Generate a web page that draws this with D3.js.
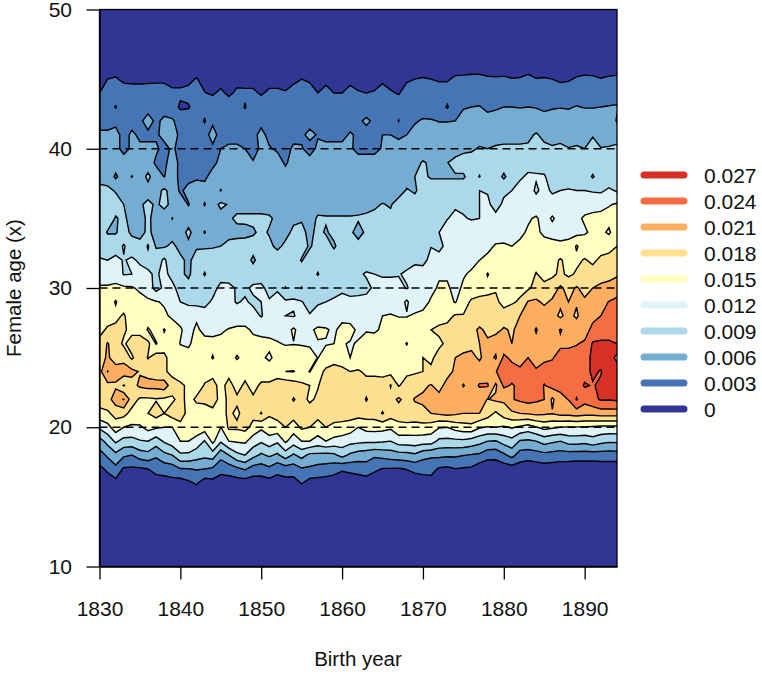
<!DOCTYPE html>
<html>
<head>
<meta charset="utf-8">
<style>
  body { margin: 0; background: #fff; }
  text { font-family: "Liberation Sans", Arial, sans-serif; fill: #111; }
  .axis path, .axis line { stroke: #000; stroke-width: 1.3; }
  .axis text { font-size: 21px; }
</style>
</head>
<body>
<div id="elm"></div>
<script src="https://d3js.org/d3.v7.min.js"></script>
<script>
'use strict';

var firstYear = 1830, lastYear = 1894;
var yearTicks = [1830, 1840, 1850, 1860, 1870, 1880, 1890];
var ageTicks = [10, 20, 30, 40, 50];
var dashedAges = [20, 30, 40];
var levels = [3, 6, 9, 12, 15, 18, 21, 24, 27, 30];
var legendLabels = ['0.027', '0.024', '0.021', '0.018', '0.015', '0.012', '0.009', '0.006', '0.003', '0'];
var legendColours = ['#d73027', '#f46d43', '#fdae61', '#fee090', '#ffffbf', '#e0f3f8', '#abd9e9', '#74add1', '#4575b4', '#313695'];
var bandColours = ['#4575b4', '#74add1', '#abd9e9', '#e0f3f8', '#ffffbf', '#fee090', '#fdae61', '#f46d43', '#d73027', '#ffffff'];

// fertility per 1000, one list per female age, one value per birth year 1830..1894
var age15 = [.5,.5,.5,.5,.5,.5,.5,.5,.5,.5, .5,.5,.5,.5,.5,.5,.5,.5,.5,.5, .5,.5,.5,.5,.5,.5,.5,.5,.5,.5, .5,.5,.5,.5,.5,.5,.5,.5,.5,.5, .5,.5,.5,.5,.5,.5,.5,.5,.5,.5, .5,.5,.5,.5,.5,.5,.5,.5,.5,.5, .5,.5,.5,.5,.5];
var age16 = [1,1.5,2,1,1,1,1,1.5,1.7,2, 1.6,2.4,3.4,1.5,2,1.5,1.5,1.5,1.5,1.5, 1.5,1.8,1.7,1.8,1.8,3.2,1.8,1.8,1.5,1.5, 1,1,1.3,1.5,1,1,1,1,1,1.3, 1.5,1.7,1,1,1,.8,.5,.5,.5,.5, .5,.5,.5,.5,.5,.5,.5,.5,.5,.5, .5,.5,.5,.5,.5];
var age17 = [2.3,3.5,5.1,2.6,2.5,2.5,3,4,4.2,4.5, 5.8,5.9,6.2,6,5.5,4,4.4,5.3,6.3,4.6, 4.5,5.3,3.9,4.6,4.5,5.7,5.5,4.9,4.8,4.1, 3.4,3.8,4.1,4.6,3.6,2.8,2.8,2.7,3.1,3.7, 4,4.1,2.6,2.3,2.9,2.7,2.5,1,1,1, 1.2,1.5,1.5,1,1.2,1.5,1.3,1.2,1.1,1, 1,1,1.1,1.1,1.1];
var age18 = [4.8,6.5,8.2,6.5,6,7.5,8,6.5,8.2,9, 11.5,11.4,10.4,9.8,10.5,7,9,11.3,12,10, 8.5,9.5,8.5,10.5,8.6,10,8.3,8.3,8,8.4, 10,8.4,7.6,7.3,6.5,7,7.4,7.8,8,8.5, 7,6.5,6.7,6.5,6.5,6.1,5.8,5.5,4.1,4, 5.4,7,4.6,4.3,4.7,5.1,4.9,4.6,4.6,4.5, 4.5,4.5,4.6,4.6,4.6];
var age19 = [7.8,10,12.5,11,11,11.8,12,10.5,12.4,13.7, 15,15,13.8,11.8,15.8,12.4,15,15.3,15.5,13.5, 12.4,13.6,12.5,15.5,13.3,15,15,13.8,15,14, 13.7,13,12.7,12.5,12.6,12.3,12,13.5,13.5,13.7, 13.4,13.4,11.3,11.2,11.3,11.4,10.8,10,9,8.8, 10.2,11,8.7,8.5,9,10.2,9.5,9,10.2,10.3, 9.9,10.8,9.9,9.4,9.5];
var age20 = [12.6,14,16.5,15,14.5,14.5,16,15.4,15,15, 17,17,17,16.5,18,15,18.5,18.5,19,17, 15.6,17,17,18,16.5,18.5,18,16.8,18,17.5, 17,16.5,15,16,16.1,16,15.5,17,17,16.8, 17,16.5,15.2,15,16.1,16.7,17,15.3,14.8,15, 14.6,15.3,14.5,13.6,14.8,15.9,15.4,15,14.8,14.8, 14.8,14.6,14.3,14.3,14.3];
var age21 = [17,17.5,19,19,17,17.5,18,19.3,18,19.5, 19.5,17,16.5,16,17,17,18.5,17.5,19,19, 21.2,18.3,19,19.5,19.5,19.5,19.5,19,19,19, 19.5,19.5,19.5,19.5,19.5,21.2,19.5,19.5,20,20, 20.3,21,21.5,22,21.5,21,21,21,19.5,17.5, 19.5,20.5,21,21.3,21.8,21.5,21.2,22,22,22.5, 22,22,22.5,22.5,22.5];
var age22 = [19.5,19.8,22.5,24.1,19.5,17.5,17.5,17.8,17.5,17.5, 19,17,18.5,19,19.5,17,18.5,18.5,18.3,18.5, 18.2,18,19,19.5,17.8,19,17.5,18.5,19,18, 19.5,19.5,19.5,17.8,19.5,19.5,19.8,21.5,19.9,21.2, 21.5,22,22,22,22,22,22,22,20.9,21.5, 21.5,23.8,24.5,25,24.5,24,20.5,23,24.1,27.2, 25,26.2,27.3,27.2,27.5];
var age23 = [20,20.2,20.5,17.8,20,21.5,22,22,22.5,19.5, 18.5,17.5,16.5,18.2,19,17,19,17,18.5,17, 18.5,18.5,19.5,20,19.5,18.5,18,17.8,19.5,19.5, 19.5,20,19.5,19,19,18.3,21.2,17.8,19,19.5, 20.5,21.2,20,22,22,24.2,22.5,24.3,24.3,20.5, 24.5,23.8,24.5,25,25,23.9,25,25,25,25.5, 27.3,26.8,27.5,28,28];
var age24 = [20,24.1,22.5,22.5,21.7,20.8,20,19.5,18.5,17, 16.5,15.5,16,17,17,17.5,17,17,17,15, 16.5,16.5,16.5,15,14.9,16,14.9,17,18.5,18.5, 18.5,18,18.3,17.5,17.5,17.8,17,17,17.5,17.7, 18,18.5,21,20,21.5,22,22,22,22.5,23.9, 25,25,24.5,24.2,24.3,25,25,25,25.5,25.5, 26,27.5,26.8,29,28];
var age25 = [19.5,21.5,19.5,20,17.5,20,17.8,19.5,18.5,17, 16.5,15.5,16.5,16.5,14.8,16.5,16.5,14.7,16,16, 15.5,14.5,16,16.5,16.5,17,16.5,14.9,16.5,17.5, 17,15,16,16.5,16.5,16.5,16.5,17,17,17.5, 18,17.5,19,20,21,21.5,21.5,20.7,22,20.7, 24.5,23.5,23,24,23,23.5,23.8,25,25,25.5, 26,27.5,28.5,28,31];
var age26 = [19,21.2,19.5,17.5,19.5,19.5,18.8,14.8,17,16.5, 14.9,14.8,15.5,16,16,16,15.7,16.5,16.5,16, 16,15.7,15.2,14.8,14.9,14.7,14.5,14.8,14.8,15, 15.2,14.8,15.2,16,16,16.3,16.5,16.5,14.8,17, 17,17.5,17.5,18.5,19.5,20,20.5,21,21.5,22, 22.5,21,22.5,23,23,23,23.5,23.5,23.5,23.8, 24.5,27.3,27.5,27.5,27];
var age27 = [17,18.5,19,18.5,17,17,14.7,16,18.2,16.5, 15.3,14,15.5,14.2,14,14.5,15.2,15.5,15.7,14.5, 14,14,14,13.7,15.5,13.5,14.5,15.5,15.3,14.5, 16,15.8,14.5,14.8,14.7,15.3,16,17,17.3,17.5, 17.5,18,18.5,19,19,19.5,20,21.5,20.3,20.5, 21.2,20.8,21.5,22,24.3,22,22.5,24.2,23,23, 22.5,25,25.5,25.5,26];
var age28 = [16,16.5,17,18.5,15.5,16.5,16.5,16,15.5,14.5, 14,13.5,14.5,13.5,13.5,13.7,13,13.5,13,13, 11.8,13.2,13.2,12,11.8,13,12.3,13,13,14, 14,14,13.5,13.7,14,15,15.3,14.8,14.8,15.5, 16,16.5,17,17,18.3,18.2,18.5,19,19.5,20, 20,20.5,21,22,22,22.5,22,20.5,22,20.5, 23,23,24,25,25.5];
var age29 = [15.5,16,18.3,15.8,16,16,15.5,15.2,14.7,14, 12,11.5,11,11,12.5,13,12.7,11.8,12.3,11.5, 12,12.3,14.7,12.5,12.4,12.2,10.5,11.7,12,12.5, 12.8,13,13,13,13,13,13,13.5,15.5,13, 13.5,15.5,16,16,14.8,16.5,18.5,19,19,19, 16.5,17.5,18.5,21.2,21.5,20.5,21.5,21.5,21,21.3, 21.5,22,23,24.1,24.5];
var age30 = [15.5,15.5,15.5,15.5,15.3,14.5,13.5,11,12.5,13, 10.5,10,9,10.5,10.8,13,12.8,11.7,11.5,12.5, 12.7,11,11,8.9,10.5,8.9,11,11,10.8,10.8, 11.5,10.5,10.8,11.2,12.5,13,13,13,11.8,13, 13.5,14,15.5,15.5,14,15.5,16,16.5,17,17.5, 15.7,16,17,17.5,19,19,19.5,21.5,20,21.3, 20,21,21.5,22,23];
var age31 = [13,13,14,11.8,12,13,12.5,11.5,13,10.8, 9.5,8.5,10.5,8.8,10.5,10.5,10.5,10.5,10.5,10.5, 10.5,10.5,10.5,10.5,10.5,10.5,10.5,8.8,10.5,10.5, 10.5,11,11.5,12.3,12,11.7,11.7,11.8,12.5,13, 13.5,14,14.5,14.5,14.5,14.7,15.5,16,18.2,16.5, 16.5,16.5,17,16,18.2,16.8,17.5,18.5,17.5,18.3, 19,19,20,20,20.5];
var age32 = [12.3,12,12.8,11.8,12.5,11.5,11,10.5,12.5,10, 9.5,8.5,10,10.3,10.3,10.3,10.3,10.3,10.3,8.5, 10.3,10.3,10.3,10.3,10.3,8.8,10.3,10.3,10.3,10.3, 10.3,10.3,10.3,10.5,10.5,10.5,10.5,9,10.8,11.5, 11,13,13.5,14,14,13.8,14,15,15.5,16, 15.5,15.5,16,16.5,16.5,16.5,17,18.3,17,17.5, 18.2,17.5,18.5,18.5,19];
var age33 = [10.5,10.5,10.5,12.3,10.3,10,12.3,8.7,8.7,9.5, 8.3,8.5,8.7,8.7,8.8,9,9.7,10,10,10, 10,9.5,8.5,9.5,10,10,8.7,10,10,8.7, 10,10,10,10.2,10.5,10.5,10.5,10.5,11,11.5, 12,11.9,11,13,13.5,13.5,14,14,14.5,15.2, 15.3,15,15.5,16,16,16,16,15.6,16,18.3, 16.5,16.5,17,17.5,18];
var age34 = [10.5,8.8,8.8,10,8.5,8,9.6,8,8.3,8, 8,9.5,8,5.8,8,8,8.2,8.2,8.3,8.7, 9.5,8.8,8,8.3,9.5,9.5,8.5,9.5,8.8,9.5, 9.5,9.5,8,9.5,9.7,10,10,10,10,10, 10.3,11.5,12,13,13,13,13.5,13.5,13.8,14, 14,14.3,14.5,15.3,15.5,14.5,14,14,14,14, 14.7,15.5,15.8,14.5,17];
var age35 = [10.5,10.5,8.8,9.5,8,8,9.5,8,8,5.9, 8,8,8,8,8,8,8.6,9.5,9.5,9.5, 9.5,9.3,8.5,8.5,8.5,8.8,8,9.3,9.2,9.2, 9.2,9.2,9.3,9.3,9.5,9.8,9.5,9,10,10, 10.3,10.5,11.3,11.9,12.5,12.2,11.8,12,12.5,12.8, 13,13,13.5,14.7,15.3,14,15.3,14,14.7,14.5, 15.3,15.5,15.5,16,16.5];
var age36 = [10,10,10,9,8.5,8.7,9.5,8.7,9.5,8.5, 8,5.8,8,5.8,8,9.5,8.8,8,8,8, 8,8,8,8,8,8,8,8,8,8, 8,8,8,8.5,8.7,9.1,8.8,10,9.5,10, 10.5,10.7,11,11.5,11.7,11.5,11.5,12,12.5,11, 12.5,13,13,13.3,13.5,14,13.5,13.8,14,14, 14,14.3,14.5,14.8,15.3];
var age37 = [9.5,9.5,8.8,8.3,8,8,8,8,9.5,8, 5.5,7,7.5,7.5,7.5,5.9,8,8,8,8, 7.5,7.5,7.5,7.5,7.5,7.5,7.5,7.5,7.5,7.5, 7.5,7.5,7.8,8,8,8,8,8,9.2,8.7, 10,10.5,10.5,10.5,10.5,10.5,11.5,12,11.8,12, 11.5,12,12.8,13.5,11.5,13,11.5,12,12.2,12, 12,11.7,11.5,12.5,11.7];
var age38 = [8.4,8,5.5,7.5,5.9,7.5,9.6,7.5,5.9,7.5, 5.2,5,5.5,5.2,7.5,7.5,7.5,7.5,7.5,7.5, 7.5,7.5,7.5,7.5,7.5,7.5,7.5,7.5,7.5,7.5, 8,8,8,8,8,8,8,8,8,9, 9.5,8.7,8.7,8.7,8.7,8.7,10,8.9,10.5,10.5, 8.5,10.5,11.7,12.3,12.3,12.2,11,10.5,10.5,10.5, 10.5,8.7,10.5,10,10.5];
var age39 = [7,7.5,7.5,7.5,7.5,7.5,7.5,5.5,5.5,7, 5.5,5,5.5,5,5,7,7,7.5,7.5,6.2, 7.5,7.5,7.5,5.5,7.5,7.5,7,7.5,7.5,7.5, 7.5,7.5,7.5,7.5,7.5,7.5,7.5,7.5,7.5,8, 9.3,8.5,8,8.9,10,10,10,10,10,10, 10.5,10.5,11,11.3,11,11,10.5,10.5,10.5,10.5, 10.5,10.5,10.5,9,10.5];
var age40 = [7,7,7,5,6.5,6.5,6.5,6.5,5,6.5, 5,4.8,4.8,5,5.5,6,6.5,6.5,6,5, 6.5,6.3,5.5,5,6.5,6.2,5,6.5,6.5,6.5, 6.5,6.5,5,5,5,6.3,7,7,7,7, 7,7,7,7,7.5,8.5,8.7,9.2,9,9.3, 9.5,9.5,9.5,9.5,10.3,9.7,9.3,9.5,9.1,9.3, 9,10,9.1,9.2,9.4];
var age41 = [6.5,6.5,7,5,6.5,5.5,5.5,5.5,7,7, 5.5,5,5,5,7,5,5,5,5,5, 7,5,5,5,5,5.5,6.7,5.8,5.5,5.5, 5.5,6.2,5.7,5,5.5,6,6,5.5,6,7, 7.3,7.3,7.2,7.2,7.3,7.8,8,8,7.8,8, 8,8,8,8.3,9.3,8.2,8,8.2,7.9,8, 8.3,8.8,8,8,8.2];
var age42 = [5,5,5.2,5,5,5.5,7,5.5,6.5,6.3, 5,5,5,2.7,5.5,5,5,5,5,5, 5,5,5,5,5,5,5,5,5,5, 5,5.2,5.5,6.5,5.5,5,5,2.9,5.3,5.7, 6.3,6.2,5.9,5.9,6,7,7,7.2,6.8,7, 7.2,7.2,7.1,7.2,7.1,6.8,7,7.1,7,7.3, 7.1,7.1,7.2,7.3,5.8];
var age43 = [4.5,4.5,2.8,4.5,4.5,4.5,5,5,5,4.5, 2.5,2.7,4.5,4.5,4.5,4.5,4.5,4.5,2.8,4.5, 4.5,4.5,4.5,4.5,4.5,4.5,4.5,4.5,4.5,4.5, 4.5,4.5,4.5,4.5,4.5,4.5,4.5,4.5,4.5,4.5, 4.5,4.5,4.5,2.7,4.8,5.8,6,6.1,5.5,5.7, 6,6,5.9,6,5.9,5.6,5.8,5.9,5.8,6.1, 5.9,5.9,6,6.1,6.2];
var age44 = [3,4.5,5,4.5,4.5,4.5,4.5,4.5,4.5,3.6, 3.6,4,4.5,3.1,2.7,3.5,2.5,3.5,3.5,3.5, 2.7,3.5,3.5,3.2,4,4.5,4.2,3,4,3, 3,4,3.2,3,3.2,4,3.3,2.8,4.2,4.5, 4.8,4.5,4.2,4.2,5,5,5,5,5,5, 5,5,5,5,5,5,5,4.5,4.5,5, 5,5,5,5,5];
var age45 = [2,3,3.3,2.4,2.2,2.2,2.3,2.4,2.4,2, 2,2.2,3.2,2,1.8,2,1.7,2.2,2,2, 1.8,2,2,2,2.4,3,2.6,2,2.2,2, 2,2.2,2,2,2,2.5,2,3,2.6,3, 3.2,3,2.7,2.7,3.5,3.6,3.8,3.8,3.4,3.3, 3.4,3.1,3.2,3.8,3.1,3.2,3,2.5,2.7,3.3, 3.6,3.5,3.1,3.4,3.6];
var age46 = [1.5,1.5,1.5,1.5,1.5,1.5,1.5,1.5,1.5,1.5, 1.5,1.5,1.5,1.5,1.5,1.5,1.5,1.5,1.5,1.5, 1.5,1.5,1.5,1.5,1.5,1.5,1.5,1.5,1.5,1.5, 1.5,1.5,1.5,1.5,1.5,1.5,1.5,1.5,1.5,1.5, 1.5,1.5,1.5,1.5,1.5,1.5,1.5,1.5,1.5,1.5, 1.5,1.5,1.5,1.5,1.5,1.5,1.5,1.5,1.5,1.5, 1.5,1.5,1.5,1.5,1.5];

var rows = [age15, age16, age17, age18, age19, age20, age21, age22, age23, age24, age25, age26, age27, age28, age29, age30,
  age31, age32, age33, age34, age35, age36, age37, age38, age39, age40, age41, age42, age43, age44, age45, age46];
var firstAge = 15;

var nx = lastYear - firstYear + 1, ny = rows.length;
rows.forEach(function(r, i) {
  if (r.length !== nx) throw new Error('age ' + (firstAge + i) + ' has ' + r.length + ' values');
});

var width = 762, height = 678;
var x = d3.scaleLinear().domain([firstYear, lastYear]).range([99.5, 617]);
var y = d3.scaleLinear().domain([10, 50]).range([566.5, 9.5]);

var svg = d3.select('#elm').append('svg').attr('width', width).attr('height', height).style('display', 'block');

svg.append('clipPath').attr('id', 'plot').append('rect')
  .attr('x', x(firstYear)).attr('y', y(50))
  .attr('width', x(lastYear) - x(firstYear)).attr('height', y(10) - y(50));

var plot = svg.append('g').attr('clip-path', 'url(#plot)');

plot.append('rect')
  .attr('x', x(firstYear)).attr('y', y(50))
  .attr('width', x(lastYear) - x(firstYear)).attr('height', y(10) - y(50))
  .attr('fill', '#313695');

// grid cell i sits at contour coordinate i + 0.5
var path = d3.geoPath(d3.geoTransform({
  point: function(gx, gy) {
    this.stream.point(x(firstYear + gx - 0.5), y(firstAge + gy - 0.5));
  }
}));

var contours = d3.contours().size([nx, ny]).thresholds(levels)(d3.merge(rows));

plot.selectAll('path.band').data(contours).enter().append('path')
  .attr('class', 'band')
  .attr('d', path)
  .attr('fill', function(d, i) { return bandColours[i]; })
  .attr('stroke', '#000')
  .attr('stroke-width', 1.4)
  .attr('stroke-linejoin', 'miter');

plot.selectAll('line.guide').data(dashedAges).enter().append('line')
  .attr('class', 'guide')
  .attr('x1', x(firstYear)).attr('x2', x(lastYear))
  .attr('y1', y).attr('y2', y)
  .attr('stroke', '#000').attr('stroke-width', 1.3).attr('stroke-dasharray', '8,5');

svg.append('rect')
  .attr('x', x(firstYear)).attr('y', y(50))
  .attr('width', x(lastYear) - x(firstYear)).attr('height', y(10) - y(50))
  .attr('fill', 'none').attr('stroke', '#000').attr('stroke-width', 1.3);

var xAxis = svg.append('g').attr('class', 'axis')
  .attr('transform', 'translate(0,' + y(10) + ')')
  .call(d3.axisBottom(x).tickValues(yearTicks).tickFormat(d3.format('d')).tickSize(13).tickSizeOuter(0).tickPadding(22));

svg.append('g').attr('class', 'axis')
  .attr('transform', 'translate(' + x(firstYear) + ',0)')
  .call(d3.axisLeft(y).tickValues(ageTicks).tickFormat(d3.format('d')).tickSize(13).tickSizeOuter(0).tickPadding(14.5));

svg.append('text').attr('x', 358).attr('y', 666).attr('text-anchor', 'middle').style('font-size', '20.5px').text('Birth year');
svg.append('text').attr('transform', 'translate(21,288) rotate(-90)').attr('text-anchor', 'middle').style('font-size', '20.5px').text('Female age (x)');

var legendY = d3.scalePoint().domain(legendLabels).range([175, 409]);
var legend = svg.selectAll('g.key').data(legendLabels).enter().append('g')
  .attr('class', 'key')
  .attr('transform', function(d) { return 'translate(0,' + legendY(d) + ')'; });
legend.append('line')
  .attr('x1', 644).attr('x2', 684)
  .attr('stroke', function(d, i) { return legendColours[i]; })
  .attr('stroke-width', 7).attr('stroke-linecap', 'round');
legend.append('text')
  .attr('x', 704).attr('dy', '0.36em').style('font-size', '21px')
  .text(function(d) { return d; });
</script>
</body>
</html>
